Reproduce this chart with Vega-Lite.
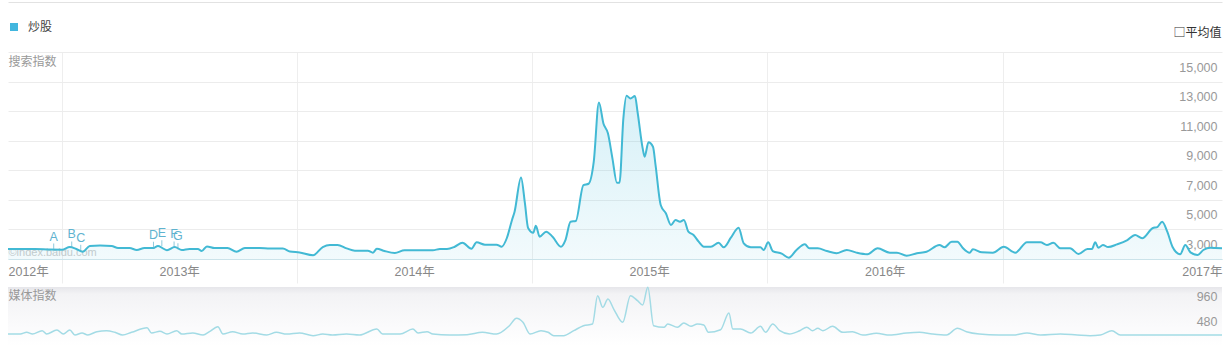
{
  "$schema": "https://vega.github.io/schema/vega-lite/v6.json",
  "padding": {"left": 4, "top": 2, "right": 2, "bottom": 0},
  "background": "#ffffff",
  "spacing": 0,
  "config": {
    "font": "Liberation Sans, Noto Sans CJK SC",
    "view": {"stroke": null},
    "axis": {"labelFont": "Liberation Sans, Noto Sans CJK SC", "titleFont": "Noto Sans CJK SC"},
    "legend": {"labelFont": "Noto Sans CJK SC"}
  },
  "datasets": {
    "search": [
      {"date": "2012-10-09", "value": 1680}, {"date": "2012-10-28", "value": 1680}, {"date": "2012-11-20", "value": 1680}, {"date": "2012-12-13", "value": 1640},
      {"date": "2013-01-01", "value": 1630}, {"date": "2013-01-13", "value": 1810}, {"date": "2013-01-23", "value": 1680}, {"date": "2013-02-02", "value": 1490},
      {"date": "2013-02-13", "value": 1880}, {"date": "2013-03-01", "value": 1910}, {"date": "2013-03-19", "value": 1880}, {"date": "2013-03-29", "value": 1740},
      {"date": "2013-04-16", "value": 1740}, {"date": "2013-04-27", "value": 1610}, {"date": "2013-05-09", "value": 1740}, {"date": "2013-05-22", "value": 1740},
      {"date": "2013-05-30", "value": 1880}, {"date": "2013-06-06", "value": 1740}, {"date": "2013-06-13", "value": 1590}, {"date": "2013-06-25", "value": 1810},
      {"date": "2013-07-06", "value": 1610}, {"date": "2013-07-18", "value": 1680}, {"date": "2013-07-31", "value": 1680}, {"date": "2013-08-06", "value": 1540},
      {"date": "2013-08-14", "value": 1850}, {"date": "2013-08-26", "value": 1740}, {"date": "2013-09-15", "value": 1740}, {"date": "2013-09-29", "value": 1490},
      {"date": "2013-10-12", "value": 1740}, {"date": "2013-11-04", "value": 1740}, {"date": "2013-11-20", "value": 1710}, {"date": "2013-12-10", "value": 1710},
      {"date": "2013-12-21", "value": 1510}, {"date": "2014-01-05", "value": 1440}, {"date": "2014-01-26", "value": 1250}, {"date": "2014-02-10", "value": 1810},
      {"date": "2014-02-21", "value": 1950}, {"date": "2014-03-05", "value": 1950}, {"date": "2014-03-19", "value": 1720}, {"date": "2014-04-01", "value": 1560},
      {"date": "2014-04-21", "value": 1560}, {"date": "2014-04-29", "value": 1430}, {"date": "2014-05-05", "value": 1700}, {"date": "2014-05-17", "value": 1540},
      {"date": "2014-06-02", "value": 1410}, {"date": "2014-06-17", "value": 1590}, {"date": "2014-07-11", "value": 1590}, {"date": "2014-07-31", "value": 1590},
      {"date": "2014-08-11", "value": 1680}, {"date": "2014-08-22", "value": 1680}, {"date": "2014-09-03", "value": 1830}, {"date": "2014-09-15", "value": 2100},
      {"date": "2014-09-29", "value": 1700}, {"date": "2014-10-07", "value": 2130}, {"date": "2014-10-20", "value": 1970}, {"date": "2014-11-07", "value": 1970},
      {"date": "2014-11-15", "value": 1830}, {"date": "2014-11-23", "value": 2420}, {"date": "2014-12-01", "value": 3640}, {"date": "2014-12-05", "value": 4200},
      {"date": "2014-12-15", "value": 6520}, {"date": "2014-12-21", "value": 4790}, {"date": "2014-12-26", "value": 3100}, {"date": "2015-01-03", "value": 2780},
      {"date": "2015-01-07", "value": 3250}, {"date": "2015-01-13", "value": 2510}, {"date": "2015-01-23", "value": 2850}, {"date": "2015-02-02", "value": 2510},
      {"date": "2015-02-15", "value": 1830}, {"date": "2015-02-22", "value": 2280}, {"date": "2015-03-02", "value": 3520}, {"date": "2015-03-10", "value": 3570},
      {"date": "2015-03-22", "value": 6000}, {"date": "2015-03-30", "value": 6090}, {"date": "2015-04-07", "value": 7580}, {"date": "2015-04-15", "value": 11590},
      {"date": "2015-04-22", "value": 10170}, {"date": "2015-04-29", "value": 9500}, {"date": "2015-05-06", "value": 7810}, {"date": "2015-05-13", "value": 6160},
      {"date": "2015-05-17", "value": 6160}, {"date": "2015-05-23", "value": 10510}, {"date": "2015-05-28", "value": 12040}, {"date": "2015-06-03", "value": 11860},
      {"date": "2015-06-10", "value": 12020}, {"date": "2015-06-14", "value": 10960}, {"date": "2015-06-22", "value": 8480}, {"date": "2015-06-25", "value": 7920},
      {"date": "2015-07-01", "value": 8890}, {"date": "2015-07-08", "value": 8590}, {"date": "2015-07-12", "value": 7350}, {"date": "2015-07-20", "value": 4650},
      {"date": "2015-07-28", "value": 4090}, {"date": "2015-08-05", "value": 3300}, {"date": "2015-08-12", "value": 3640}, {"date": "2015-08-19", "value": 3520},
      {"date": "2015-08-25", "value": 3640}, {"date": "2015-09-01", "value": 2850}, {"date": "2015-09-09", "value": 2620}, {"date": "2015-09-17", "value": 2170},
      {"date": "2015-09-25", "value": 1830}, {"date": "2015-10-06", "value": 1830}, {"date": "2015-10-18", "value": 2100}, {"date": "2015-10-26", "value": 1790},
      {"date": "2015-11-06", "value": 2440}, {"date": "2015-11-18", "value": 3120}, {"date": "2015-11-26", "value": 2060}, {"date": "2015-12-07", "value": 1790},
      {"date": "2015-12-22", "value": 1790}, {"date": "2015-12-27", "value": 1610}, {"date": "2016-01-03", "value": 2130}, {"date": "2016-01-10", "value": 1540},
      {"date": "2016-01-24", "value": 1360}, {"date": "2016-02-04", "value": 1090}, {"date": "2016-02-16", "value": 1610}, {"date": "2016-02-29", "value": 1990},
      {"date": "2016-03-07", "value": 1720}, {"date": "2016-03-20", "value": 1720}, {"date": "2016-04-03", "value": 1540}, {"date": "2016-04-18", "value": 1390},
      {"date": "2016-05-04", "value": 1610}, {"date": "2016-05-19", "value": 1430}, {"date": "2016-06-05", "value": 1320}, {"date": "2016-06-21", "value": 1720},
      {"date": "2016-07-10", "value": 1430}, {"date": "2016-07-21", "value": 1430}, {"date": "2016-08-05", "value": 1220}, {"date": "2016-08-21", "value": 1390},
      {"date": "2016-09-05", "value": 1490}, {"date": "2016-09-25", "value": 1950}, {"date": "2016-10-03", "value": 1790}, {"date": "2016-10-14", "value": 2170},
      {"date": "2016-10-23", "value": 2170}, {"date": "2016-10-31", "value": 1760}, {"date": "2016-11-11", "value": 1430}, {"date": "2016-11-16", "value": 1660},
      {"date": "2016-11-30", "value": 1450}, {"date": "2016-12-17", "value": 1430}, {"date": "2017-01-03", "value": 1830}, {"date": "2017-01-21", "value": 1430},
      {"date": "2017-02-08", "value": 2130}, {"date": "2017-03-01", "value": 2130}, {"date": "2017-03-11", "value": 1950}, {"date": "2017-03-21", "value": 2100},
      {"date": "2017-04-01", "value": 1720}, {"date": "2017-04-16", "value": 1720}, {"date": "2017-04-29", "value": 1340}, {"date": "2017-05-13", "value": 1680},
      {"date": "2017-05-20", "value": 1680}, {"date": "2017-05-25", "value": 2130}, {"date": "2017-05-30", "value": 1760}, {"date": "2017-06-06", "value": 1950},
      {"date": "2017-06-14", "value": 1810}, {"date": "2017-06-28", "value": 1990}, {"date": "2017-07-14", "value": 2280}, {"date": "2017-07-26", "value": 2620},
      {"date": "2017-08-06", "value": 2400}, {"date": "2017-08-22", "value": 3080}, {"date": "2017-08-30", "value": 3180}, {"date": "2017-09-06", "value": 3520},
      {"date": "2017-09-14", "value": 2850}, {"date": "2017-09-22", "value": 1830}, {"date": "2017-10-04", "value": 1320}, {"date": "2017-10-12", "value": 1950},
      {"date": "2017-10-20", "value": 1450}, {"date": "2017-10-31", "value": 1270}, {"date": "2017-11-09", "value": 1610}, {"date": "2017-11-20", "value": 1760},
      {"date": "2017-12-08", "value": 1720}
    ],
    "media": [
      {"date": "2012-10-09", "value": 230}, {"date": "2012-10-28", "value": 230}, {"date": "2012-11-07", "value": 263}, {"date": "2012-11-16", "value": 230},
      {"date": "2012-12-01", "value": 294}, {"date": "2012-12-08", "value": 230}, {"date": "2012-12-24", "value": 307}, {"date": "2013-01-03", "value": 230},
      {"date": "2013-01-13", "value": 307}, {"date": "2013-01-21", "value": 211}, {"date": "2013-02-01", "value": 250}, {"date": "2013-02-10", "value": 211},
      {"date": "2013-02-24", "value": 275}, {"date": "2013-03-11", "value": 294}, {"date": "2013-03-24", "value": 263}, {"date": "2013-04-05", "value": 211},
      {"date": "2013-04-19", "value": 263}, {"date": "2013-05-13", "value": 351}, {"date": "2013-05-20", "value": 250}, {"date": "2013-06-02", "value": 282},
      {"date": "2013-06-13", "value": 230}, {"date": "2013-06-28", "value": 294}, {"date": "2013-07-06", "value": 230}, {"date": "2013-07-23", "value": 250},
      {"date": "2013-08-08", "value": 211}, {"date": "2013-08-18", "value": 275}, {"date": "2013-08-31", "value": 371}, {"date": "2013-09-08", "value": 230},
      {"date": "2013-09-23", "value": 275}, {"date": "2013-10-09", "value": 230}, {"date": "2013-10-24", "value": 250}, {"date": "2013-11-15", "value": 211},
      {"date": "2013-11-30", "value": 263}, {"date": "2013-12-16", "value": 230}, {"date": "2014-01-05", "value": 250}, {"date": "2014-01-26", "value": 198},
      {"date": "2014-02-10", "value": 230}, {"date": "2014-02-25", "value": 211}, {"date": "2014-03-19", "value": 230}, {"date": "2014-04-08", "value": 211},
      {"date": "2014-05-05", "value": 326}, {"date": "2014-05-14", "value": 230}, {"date": "2014-06-10", "value": 230}, {"date": "2014-06-30", "value": 326},
      {"date": "2014-07-08", "value": 250}, {"date": "2014-07-22", "value": 275}, {"date": "2014-07-31", "value": 230}, {"date": "2014-08-26", "value": 211},
      {"date": "2014-09-22", "value": 217}, {"date": "2014-10-16", "value": 263}, {"date": "2014-11-07", "value": 230}, {"date": "2014-11-27", "value": 390},
      {"date": "2014-12-08", "value": 532}, {"date": "2014-12-18", "value": 455}, {"date": "2014-12-29", "value": 230}, {"date": "2015-01-15", "value": 294},
      {"date": "2015-01-26", "value": 263}, {"date": "2015-02-04", "value": 198}, {"date": "2015-02-19", "value": 198}, {"date": "2015-03-07", "value": 294},
      {"date": "2015-03-22", "value": 390}, {"date": "2015-04-05", "value": 422}, {"date": "2015-04-13", "value": 966}, {"date": "2015-04-21", "value": 743},
      {"date": "2015-04-29", "value": 902}, {"date": "2015-05-08", "value": 710}, {"date": "2015-05-22", "value": 455}, {"date": "2015-06-03", "value": 966},
      {"date": "2015-06-14", "value": 870}, {"date": "2015-06-22", "value": 787}, {"date": "2015-06-30", "value": 1127}, {"date": "2015-07-09", "value": 390},
      {"date": "2015-07-25", "value": 359}, {"date": "2015-07-31", "value": 422}, {"date": "2015-08-15", "value": 359}, {"date": "2015-08-25", "value": 442},
      {"date": "2015-09-05", "value": 378}, {"date": "2015-09-15", "value": 422}, {"date": "2015-09-25", "value": 403}, {"date": "2015-10-02", "value": 263},
      {"date": "2015-10-21", "value": 313}, {"date": "2015-11-03", "value": 634}, {"date": "2015-11-09", "value": 326}, {"date": "2015-11-21", "value": 326},
      {"date": "2015-12-07", "value": 250}, {"date": "2015-12-22", "value": 378}, {"date": "2015-12-30", "value": 263}, {"date": "2016-01-10", "value": 422},
      {"date": "2016-01-21", "value": 294}, {"date": "2016-02-05", "value": 230}, {"date": "2016-02-21", "value": 294}, {"date": "2016-03-03", "value": 359},
      {"date": "2016-03-12", "value": 294}, {"date": "2016-03-20", "value": 340}, {"date": "2016-03-28", "value": 294}, {"date": "2016-04-12", "value": 378},
      {"date": "2016-04-28", "value": 263}, {"date": "2016-05-13", "value": 275}, {"date": "2016-05-29", "value": 211}, {"date": "2016-06-19", "value": 244},
      {"date": "2016-07-10", "value": 211}, {"date": "2016-08-05", "value": 250}, {"date": "2016-08-25", "value": 263}, {"date": "2016-09-14", "value": 230},
      {"date": "2016-10-06", "value": 211}, {"date": "2016-10-23", "value": 340}, {"date": "2016-11-06", "value": 275}, {"date": "2016-11-26", "value": 230},
      {"date": "2016-12-26", "value": 211}, {"date": "2017-01-18", "value": 211}, {"date": "2017-02-08", "value": 250}, {"date": "2017-03-01", "value": 211},
      {"date": "2017-04-01", "value": 230}, {"date": "2017-04-27", "value": 211}, {"date": "2017-05-17", "value": 198}, {"date": "2017-06-02", "value": 211},
      {"date": "2017-06-20", "value": 294}, {"date": "2017-07-03", "value": 211}, {"date": "2017-07-23", "value": 211}, {"date": "2017-09-14", "value": 211},
      {"date": "2017-11-04", "value": 211}, {"date": "2017-12-08", "value": 211}
    ],
    "events": [
      {"date": "2012-12-19", "label": "A", "value": 1640},
      {"date": "2013-01-16", "label": "B", "value": 1780},
      {"date": "2013-01-30", "label": "C", "value": 1560},
      {"date": "2013-05-23", "label": "D", "value": 1760},
      {"date": "2013-06-05", "label": "E", "value": 1860},
      {"date": "2013-06-24", "label": "F", "value": 1780},
      {"date": "2013-06-30", "label": "G", "value": 1660}
    ]
  },
  "vconcat": [
    {
      "width": 1214,
      "height": 207,
      "layer": [
        {
          "data": {"name": "search"},
          "mark": {"type": "area", "interpolate": "monotone", "color": {"gradient": "linear", "x1": 0, "y1": 0, "x2": 0, "y2": 1, "stops": [{"offset": 0, "color": "rgba(70,188,220,0.22)"}, {"offset": 1, "color": "rgba(70,188,220,0.07)"}]}},
          "encoding": {
            "x": {
              "field": "date", "type": "temporal",
              "scale": {"domain": [{"year": 2012, "month": 10, "date": 9, "utc": true}, {"year": 2017, "month": 12, "date": 8, "utc": true}]},
              "axis": {
                "orient": "bottom",
                "tickCount": 40,
                "values": [
                  {"year": 2012, "month": 10, "date": 9, "utc": true},
                  {"year": 2013, "month": 1, "date": 1, "utc": true},
                  {"year": 2013, "month": 7, "date": 2, "utc": true},
                  {"year": 2014, "month": 1, "date": 1, "utc": true},
                  {"year": 2014, "month": 7, "date": 2, "utc": true},
                  {"year": 2015, "month": 1, "date": 1, "utc": true},
                  {"year": 2015, "month": 7, "date": 2, "utc": true},
                  {"year": 2016, "month": 1, "date": 1, "utc": true},
                  {"year": 2016, "month": 7, "date": 2, "utc": true},
                  {"year": 2017, "month": 1, "date": 1, "utc": true},
                  {"year": 2017, "month": 12, "date": 8, "utc": true}
                ],
                "grid": true,
                "gridColor": "#eeeeee",
                "gridOpacity": {"condition": {"test": "utcmonth(datum.value) === 0 && utcdate(datum.value) === 1", "value": 1}, "value": 0},
                "ticks": true,
                "tickSize": 24,
                "tickColor": "#eeeeee",
                "tickOpacity": {"condition": {"test": "utcmonth(datum.value) === 0 && utcdate(datum.value) === 1", "value": 1}, "value": 0},
                "domain": true,
                "domainColor": "#cbe3ea",
                "labelExpr": "(utcmonth(datum.value) === 0 && utcdate(datum.value) === 1) ? '' : utcyear(datum.value) + '年'",
                "labelFlush": true,
                "labelOverlap": false,
                "labelPadding": -18,
                "labelBaseline": "top",
                "labelFontSize": 12.5,
                "labelColor": "#888888",
                "title": "©index.baidu.com",
                "titleX": 0,
                "titleY": -7,
                "titleAlign": "left",
                "titleBaseline": "middle",
                "titleFontSize": 11,
                "titleFontWeight": "normal",
                "titleFont": "Liberation Sans",
                "titleColor": "#cccccc"
              }
            },
            "y": {
              "field": "value", "type": "quantitative",
              "scale": {"domain": [1000, 15000]},
              "axis": {
                "orient": "right",
                "tickCount": 20,
                "values": [1000, 3000, 5000, 7000, 9000, 11000, 13000, 15000],
                "grid": true,
                "gridColor": "#ececec",
                "domain": false,
                "ticks": false,
                "tickSize": 0,
                "labelAlign": "right",
                "labelBaseline": "middle",
                "labelPadding": -5,
                "labelOffset": 15,
                "labelOverlap": false,
                "labelExpr": "datum.value === 1000 ? '' : format(datum.value, ',')",
                "labelColor": "#999999",
                "labelFontSize": 12.5,
                "title": "搜索指数",
                "titleAngle": 0,
                "titleX": -1214,
                "titleY": 9,
                "titleAlign": "left",
                "titleBaseline": "middle",
                "titleFontSize": 12,
                "titleFontWeight": "normal",
                "titleColor": "#999999"
              }
            },
            "y2": {"datum": 1000}
          }
        },
        {
          "data": {"name": "search"},
          "mark": {"type": "line", "interpolate": "monotone", "strokeWidth": 2},
          "encoding": {
            "x": {
              "field": "date", "type": "temporal",
              "axis": {
                "orient": "top",
                "offset": 50,
                "domain": true,
                "domainColor": "#e2e2e2",
                "ticks": false,
                "labels": false,
                "grid": false,
                "title": "□平均值",
                "titleX": 1213,
                "titleY": 30,
                "titleAlign": "right",
                "titleBaseline": "middle",
                "titleFontSize": 12,
                "titleFontWeight": "normal",
                "titleColor": "#333333"
              }
            },
            "y": {"field": "value", "type": "quantitative"},
            "color": {
              "datum": "炒股",
              "scale": {"range": ["#42b9d4"]},
              "legend": {
                "orient": "none",
                "legendX": 0,
                "legendY": -31,
                "title": null,
                "padding": 0,
                "symbolType": "square",
                "symbolSize": 64,
                "symbolFillColor": "#42b6de",
                "symbolStrokeColor": "#42b6de",
                "symbolStrokeWidth": 0,
                "labelFontSize": 12,
                "labelColor": "#444444",
                "labelOffset": 8
              }
            }
          }
        },
        {
          "data": {"name": "events"},
          "mark": {"type": "tick", "orient": "vertical", "size": 6, "thickness": 1, "color": "#5fb3cf"},
          "encoding": {
            "x": {"field": "date", "type": "temporal", "axis": null},
            "y": {"field": "value", "type": "quantitative"},
            "yOffset": {"value": -3}
          }
        },
        {
          "data": {"name": "events"},
          "mark": {"type": "text", "baseline": "bottom", "dy": -6, "fontSize": 12.5, "font": "Liberation Sans", "color": "#5fb3cf"},
          "encoding": {
            "x": {"field": "date", "type": "temporal", "axis": null},
            "y": {"field": "value", "type": "quantitative"},
            "text": {"field": "label"}
          }
        }
      ],
      "resolve": {"axis": {"x": "independent"}}
    },
    {
      "width": 1214,
      "height": 59,
      "layer": [
        {
          "data": {"values": [{}]},
          "mark": {"type": "rect", "color": {"gradient": "linear", "x1": 0, "y1": 0, "x2": 0, "y2": 1, "stops": [{"offset": 0, "color": "#e6e6ea"}, {"offset": 0.12, "color": "#f3f3f5"}, {"offset": 0.7, "color": "#fbfbfc"}, {"offset": 1, "color": "#ffffff"}]}}
        },
        {
          "data": {"name": "media"},
          "mark": {"type": "line", "interpolate": "monotone", "strokeWidth": 1.5, "color": "#a3dbe5"},
          "encoding": {
            "x": {
              "field": "date", "type": "temporal",
              "scale": {"domain": [{"year": 2012, "month": 10, "date": 9, "utc": true}, {"year": 2017, "month": 12, "date": 8, "utc": true}]},
              "axis": null
            },
            "y": {
              "field": "value", "type": "quantitative",
              "scale": {"domain": [0, 1133]},
              "axis": {
                "orient": "right",
                "zindex": 1,
                "tickCount": 10,
                "values": [480, 960],
                "grid": false,
                "domain": false,
                "ticks": false,
                "tickSize": 0,
                "labelAlign": "right",
                "labelBaseline": "middle",
                "labelPadding": -5,
                "labelOverlap": false,
                "labelColor": "#999999",
                "labelFontSize": 12.5,
                "title": "媒体指数",
                "titleAngle": 0,
                "titleX": -1214,
                "titleY": 8,
                "titleAlign": "left",
                "titleBaseline": "middle",
                "titleFontSize": 12,
                "titleFontWeight": "normal",
                "titleColor": "#999999"
              }
            }
          }
        }
      ]
    }
  ]
}
